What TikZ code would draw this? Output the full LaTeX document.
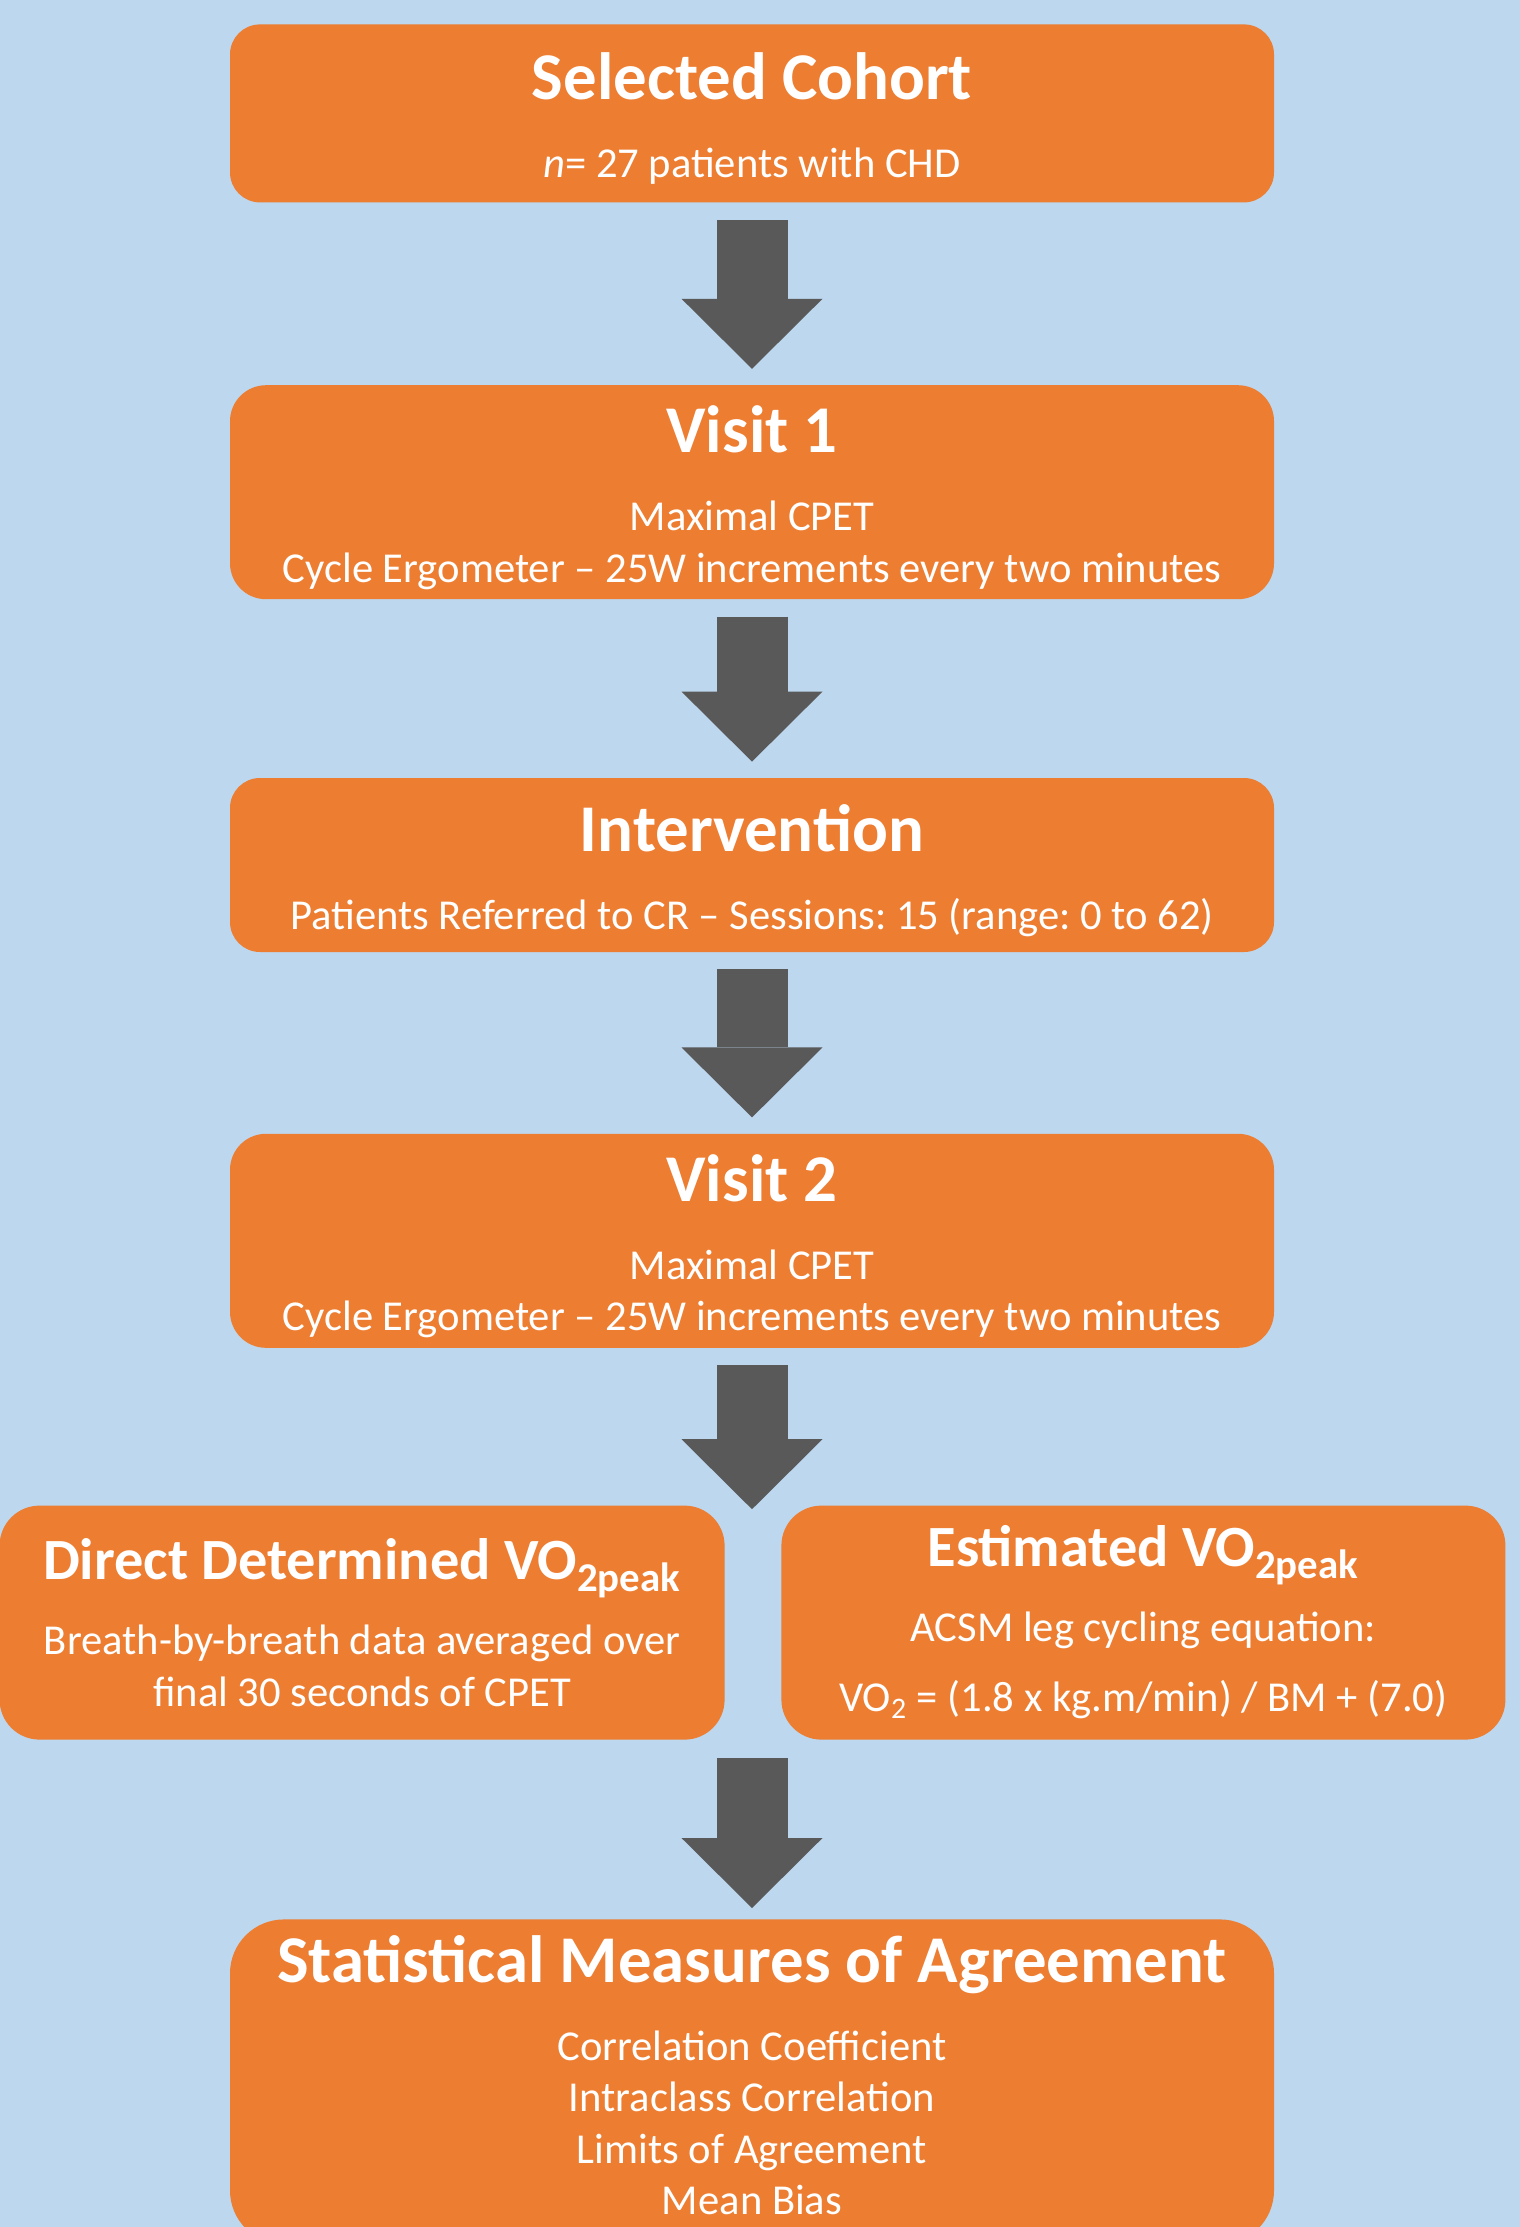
\documentclass[tikz,border=0pt]{standalone}
\usepackage{fontspec}
\setmainfont{Carlito}
\usepackage{xcolor}
\usepackage{tikz}
\usetikzlibrary{arrows.meta,positioning,calc}
\definecolor{sky}{HTML}{BDD7EE}
\definecolor{tangerine}{HTML}{ED7D31}
\definecolor{slate}{HTML}{595959}
\newcommand{\headline}[2][33.4]{{\fontsize{#1}{#1}\selectfont\bfseries #2}}
\newcommand{\lift}{\rule{0pt}{29pt}}
\frenchspacing

\begin{document}
\begin{tikzpicture}[>=Latex,node distance=91pt]
  \tikzstyle{box}=[rounded corners=15pt,fill=tangerine,text=white,minimum width=522pt,align=center,inner sep=0pt,font=\fontsize{21.3}{25.75}\selectfont]
  \tikzstyle{flow}=[slate,line width=35.5pt,-{Triangle[width=70.5pt,length=35pt,line width=0pt]},shorten <=8.5pt,shorten >=8pt]
  \useasboundingbox (0,0) rectangle (760pt,-1113.5pt);
  \clip (0,0) rectangle (760pt,-1113.5pt);
  \fill[sky] (0,0) rectangle (760pt,-1113.5pt);
  % main column
  \node[box,minimum height=89pt,anchor=north] (cohort) at (376pt,-12pt) {\headline{\lift Selected Cohort}\\[13.25pt]\textit{n}= 27 patients with CHD};
  \node[box,below=of cohort,minimum height=107pt,rounded corners=18pt] (visit1) {\headline{\lift Visit 1}\\[13.25pt]Maximal CPET\\Cycle Ergometer – 25W increments every two minutes};
  \node[box,below=89pt of visit1,minimum height=87pt] (interv) {\headline{\lift Intervention}\\[13.25pt]Patients Referred to CR – Sessions: 15 (range: 0 to 62)};
  \node[box,below=90.5pt of interv,minimum height=107pt,rounded corners=18pt] (visit2) {\headline{\lift Visit 2}\\[13.25pt]Maximal CPET\\Cycle Ergometer – 25W increments every two minutes};
  % two ways of getting the peak value
  \node[box,anchor=north east,minimum width=362.5pt,minimum height=117pt,rounded corners=20pt] (direct) at ($(visit2.south)+(-13.5pt,-78.5pt)$) {\headline[29.2]{Direct Determined VO\textsubscript{2peak}}\\[11.75pt]Breath-by-breath data averaged over\\final 30 seconds of CPET};
  \node[box,anchor=north west,minimum width=362pt,minimum height=117pt,rounded corners=20pt] (estim) at ($(visit2.south)+(14.5pt,-78.5pt)$) {\headline[29.2]{Estimated VO\textsubscript{2peak}}\\[11.75pt]ACSM leg cycling equation:\\[9.25pt]VO\textsubscript{2} = (1.8 x kg.m/min) / BM + (7.0)};
  \coordinate (split) at ($(visit2.south)+(0,-80.5pt)$);
  \coordinate (merge) at (visit2.south |- direct.south);
  \node[box,anchor=north,minimum height=162.5pt,rounded corners=27pt] (stats) at ($(merge)+(0,-89.5pt)$) {\headline{Statistical Measures of Agreement}\\[13.25pt]Correlation Coefficient\\Intraclass Correlation\\Limits of Agreement\\Mean Bias\rule[-7pt]{0pt}{7pt}};
  \draw[flow] (cohort) -- (visit1);
  \draw[flow] (visit1) -- (interv);
  \draw[flow] (interv) -- (visit2);
  \draw[flow,shorten >=0pt] (visit2) -- (split);
  \draw[flow,shorten <=9pt,shorten >=5.5pt] (merge) -- (stats);
\end{tikzpicture}
\end{document}
